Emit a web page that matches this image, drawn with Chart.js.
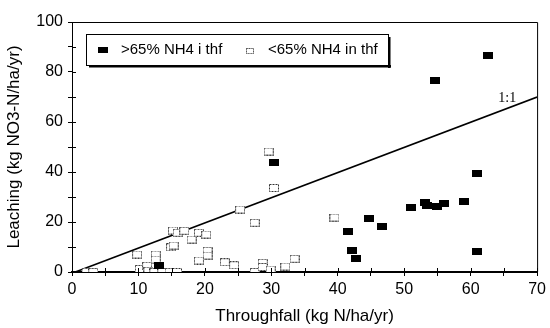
<!DOCTYPE html>
<html>
<head>
<meta charset="utf-8">
<script src="https://cdn.jsdelivr.net/npm/chart.js@4"></script>
<style>
  html, body { margin: 0; padding: 0; background: #fff; }
  #wrap { width: 550px; height: 328px; }
</style>
</head>
<body>
<div id="wrap"><canvas id="leachChart" width="550" height="328"></canvas></div>
<script>
// >65% NH4 in throughfall (filled squares)
const highNH4 = [
  [13.1, 2.6], [30.4, 43.9], [41.6, 16.4], [42.1, 8.6], [42.7, 5.4],
  [44.7, 21.4], [46.6, 18.4], [51.0, 26.0], [53.1, 27.8], [53.4, 26.6],
  [54.9, 26.4], [56.0, 27.3], [59.0, 28.1], [61.0, 39.4], [61.0, 8.2],
  [54.6, 76.8], [62.6, 86.8]
];

// <65% NH4 in throughfall (open squares)
const lowNH4 = [
  [2.2, 0], [3.2, 0], [9.8, 7.0], [10.2, 1.2], [11.3, 2.5], [11.5, 0.5],
  [12.4, 0], [12.6, 7.0], [12.6, 5.0], [13.6, 0], [14.7, 0], [15.8, 0],
  [14.9, 9.9], [15.3, 10.6], [15.2, 16.6], [15.9, 15.7], [16.9, 16.5],
  [18.0, 13.0], [19.1, 15.7], [20.2, 15.0], [20.4, 8.5], [20.4, 6.6],
  [19.1, 4.6], [23.0, 3.9], [24.4, 2.7], [25.3, 25.0], [27.5, 19.7],
  [27.5, 0], [28.7, 3.7], [28.7, 2.0], [29.9, 1.0], [30.4, 33.6],
  [29.6, 48.2], [32.1, 2.2], [33.5, 5.3], [39.5, 21.8]
];

// 1:1 reference line
const oneToOne = [[0.5, 0], [70, 70]];

const legendLabels = ['>65% NH4 i thf', '<65% NH4 in thf'];
const xTitle = 'Throughfall (kg N/ha/yr)';
const yTitle = 'Leaching (kg NO3-N/ha/yr)';

const FONT = "'Liberation Sans', Arial, sans-serif";

function filledMark() {
  const c = document.createElement('canvas');
  c.width = 10; c.height = 7;
  const g = c.getContext('2d');
  g.fillStyle = '#000';
  g.fillRect(0, 0, 10, 7);
  return c;
}

function openMark() {
  const c = document.createElement('canvas');
  c.width = 10; c.height = 8;
  const g = c.getContext('2d');
  g.fillStyle = '#fff';
  g.fillRect(0, 0, 10, 8);
  g.strokeStyle = '#333';
  g.lineWidth = 1;
  g.setLineDash([2, 1]);
  g.strokeRect(0.5, 0.5, 9, 7);
  return c;
}

const toPts = arr => arr.map(p => ({ x: p[0], y: p[1] }));

const framePlugin = {
  id: 'frame',
  afterDraw(chart) {
    const { ctx, chartArea: a, scales: { x, y } } = chart;
    ctx.save();
    ctx.strokeStyle = '#000';
    // top + right border
    ctx.lineWidth = 1;
    ctx.beginPath();
    ctx.moveTo(a.left, a.top + 0.5);
    ctx.lineTo(a.right + 0.5, a.top + 0.5);
    ctx.lineTo(a.right + 0.5, a.bottom);
    ctx.stroke();
    // inner halves of the crossing ticks
    ctx.beginPath();
    x.ticks.forEach(t => {
      const px = Math.round(x.getPixelForValue(t.value)) + 0.5;
      ctx.moveTo(px, a.bottom); ctx.lineTo(px, a.bottom - 4);
    });
    y.ticks.forEach(t => {
      const py = Math.round(y.getPixelForValue(t.value)) + 0.5;
      ctx.moveTo(a.left, py); ctx.lineTo(a.left + 4, py);
    });
    ctx.stroke();

    // 1:1 label
    ctx.fillStyle = '#000';
    ctx.font = "14px 'Liberation Serif', 'Times New Roman', serif";
    ctx.textAlign = 'center';
    ctx.textBaseline = 'alphabetic';
    ctx.fillText('1:1', x.getPixelForValue(65.5), y.getPixelForValue(68));

    // legend box
    const bx = a.left + 14, by = a.top + 12, bw = 302, bh = 31;
    ctx.fillStyle = '#000';
    ctx.fillRect(bx + 3, by + bh, bw, 2.5);
    ctx.fillRect(bx + bw, by + 3, 2.5, bh);
    ctx.fillStyle = '#fff';
    ctx.fillRect(bx, by, bw, bh);
    ctx.lineWidth = 1;
    ctx.strokeRect(bx + 0.5, by + 0.5, bw, bh);

    ctx.drawImage(filledMark(), bx + 12, by + 13, 10, 6);
    ctx.drawImage(openMark(), bx + 160, by + 14, 8, 6);
    ctx.fillStyle = '#000';
    ctx.font = '15px ' + FONT;
    ctx.textAlign = 'left';
    ctx.fillText(legendLabels[0], bx + 35, by + 20);
    ctx.fillText(legendLabels[1], bx + 182, by + 20);
    ctx.restore();
  }
};

new Chart(document.getElementById('leachChart'), {
  type: 'scatter',
  data: {
    datasets: [
      {
        label: legendLabels[0],
        data: toPts(highNH4),
        pointStyle: filledMark(),
        pointRadius: 5
      },
      {
        label: legendLabels[1],
        data: toPts(lowNH4),
        pointStyle: openMark(),
        pointRadius: 5
      },
      {
        type: 'line',
        label: '1:1',
        data: toPts(oneToOne),
        borderColor: '#000',
        borderWidth: 1.6,
        pointRadius: 0,
        fill: false
      }
    ]
  },
  options: {
    responsive: false,
    animation: false,
    layout: { padding: { top: 22, right: 8, left: 0, bottom: 0 } },
    plugins: {
      legend: { display: false },
      tooltip: { enabled: false }
    },
    scales: {
      x: {
        type: 'linear',
        min: 0, max: 70,
        afterFit: s => { s.height = 56; },
        ticks: {
          stepSize: 5,
          color: '#000',
          font: { family: FONT, size: 16 },
          padding: 4,
          maxRotation: 0,
          callback: v => (v % 10 === 0 ? v : '')
        },
        grid: { drawOnChartArea: false, tickLength: 4, color: '#000' },
        border: { color: '#000', width: 2 },
        title: {
          display: true,
          text: xTitle,
          color: '#000',
          font: { family: FONT, size: 17 },
          padding: { top: 0, bottom: 1 }
        }
      },
      y: {
        type: 'linear',
        min: 0, max: 100,
        afterFit: s => { s.width = 72; },
        ticks: {
          stepSize: 10,
          color: '#000',
          font: { family: FONT, size: 16 },
          padding: 5,
          callback: v => (v % 20 === 0 ? v : '')
        },
        grid: { drawOnChartArea: false, tickLength: 4, color: '#000' },
        border: { color: '#000', width: 1 },
        title: {
          display: true,
          text: yTitle,
          color: '#000',
          font: { family: FONT, size: 17 },
          padding: { top: 4, bottom: 0 }
        }
      }
    }
  },
  plugins: [framePlugin]
});
</script>
</body>
</html>
